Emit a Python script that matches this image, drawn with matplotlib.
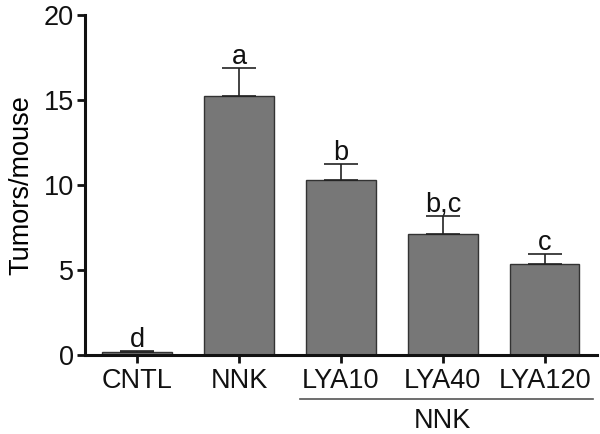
import matplotlib
matplotlib.use("Agg")
import matplotlib.pyplot as plt

categories = ["CNTL", "NNK", "LYA10", "LYA40", "LYA120"]
means = [0.15, 15.25, 10.3, 7.15, 5.35]
errors = [0.08, 1.65, 0.95, 1.05, 0.6]
letters = ["d", "a", "b", "b,c", "c"]
group_label = "NNK"

plt.rcParams['font.family'] = ['Liberation Sans', 'DejaVu Sans']
FS = 19.5

fig = plt.figure(figsize=(6, 4.34), dpi=100)
ax = fig.add_axes([0.1417, 0.182, 0.853, 0.783])

x = list(range(len(categories)))
ax.bar(x, means, width=0.68, color="#777777", edgecolor="#333333", linewidth=1.0, zorder=2)
ax.errorbar(x, means, yerr=[[0]*len(errors), errors], fmt="none", ecolor="#222222",
            elinewidth=1.2, capsize=12, capthick=1.2, zorder=3)
for xi, m, e, l in zip(x, means, errors, letters):
    ax.text(xi, m + e + 0.25, l, ha="center", va="baseline", fontsize=FS, color="#111111")

ax.set_xlim(-0.51, 4.51)
ax.set_ylim(0, 20)
ax.set_yticks([0, 5, 10, 15, 20])
ax.set_xticks(x)
ax.set_xticklabels(categories)
ax.set_ylabel("Tumors/mouse", fontsize=FS, labelpad=7)
ax.tick_params(axis="both", labelsize=FS, width=2, length=6, color="#111111", labelcolor="#111111")
ax.tick_params(axis="x", pad=3)
ax.tick_params(axis="y", pad=2)
for s in ["top", "right"]:
    ax.spines[s].set_visible(False)
for s in ["left", "bottom"]:
    ax.spines[s].set_linewidth(2.2)
    ax.spines[s].set_color("#111111")

# group line under LYA groups
line_y = -0.13
ax.plot([1.6, 4.47], [line_y, line_y], transform=ax.get_xaxis_transform(), color="#555555",
        linewidth=1.2, clip_on=False)
ax.text(3.0, line_y - 0.025, group_label, transform=ax.get_xaxis_transform(), ha="center",
        va="top", fontsize=FS, color="#111111")

fig.savefig("out.png", dpi=100)
